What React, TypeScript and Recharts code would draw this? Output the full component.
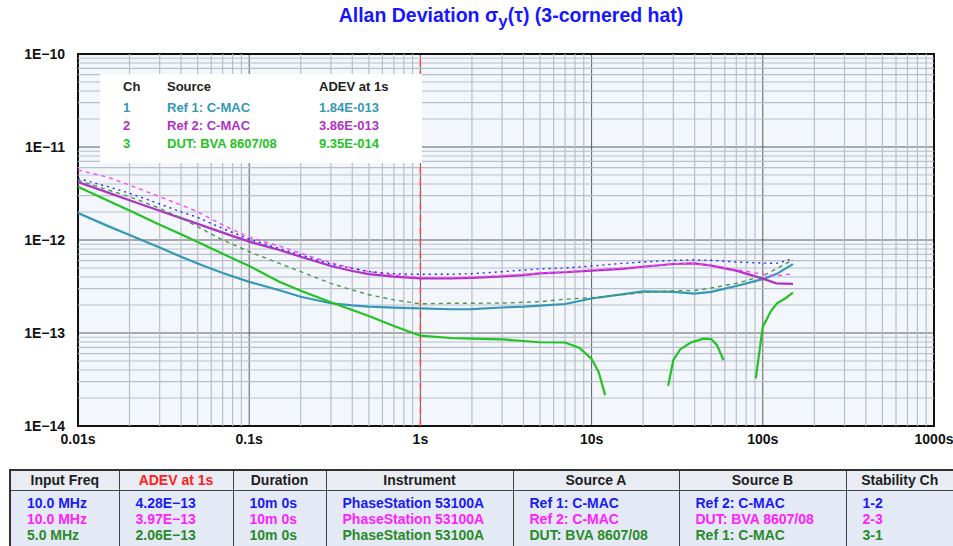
import { LineChart, Line, XAxis, YAxis, CartesianGrid, ReferenceLine, ReferenceArea } from 'recharts'

// tau grid shared by the pair measurements and the 3-cornered-hat results
const taus = [
  0.01, 0.015, 0.02, 0.03, 0.04, 0.05, 0.07, 0.1, 0.15, 0.2, 0.3, 0.4, 0.5, 0.7, 1, 1.5, 2, 3, 4, 5, 7, 10, 15, 20,
  30, 40, 50, 70, 100, 120, 150,
]

// solid: individual sources (3-cornered hat)
const ref1Adev = [
  1.95e-12, 1.41e-12, 1.13e-12, 8.3e-13, 6.6e-13, 5.6e-13, 4.42e-13, 3.55e-13, 2.88e-13, 2.45e-13, 2.09e-13, 1.98e-13,
  1.92e-13, 1.87e-13, 1.84e-13, 1.8e-13, 1.81e-13, 1.88e-13, 1.92e-13, 1.97e-13, 2.05e-13, 2.35e-13, 2.6e-13, 2.8e-13,
  2.77e-13, 2.65e-13, 2.77e-13, 3.2e-13, 3.8e-13, 4.3e-13, 5.5e-13,
]
const ref2Adev = [
  4.2e-12, 3.23e-12, 2.68e-12, 2.06e-12, 1.72e-12, 1.49e-12, 1.2e-12, 9.6e-13, 7.8e-13, 6.6e-13, 5.25e-13, 4.64e-13,
  4.3e-13, 4.03e-13, 3.86e-13, 3.86e-13, 3.92e-13, 4.05e-13, 4.2e-13, 4.38e-13, 4.5e-13, 4.68e-13, 4.9e-13, 5.16e-13,
  5.52e-13, 5.6e-13, 5.3e-13, 4.68e-13, 3.84e-13, 3.42e-13, 3.37e-13,
]

// dotted: pair measurements (ch 1-2, 2-3, 3-1)
const pair12Adev = [
  4.6e-12, 3.74e-12, 3.18e-12, 2.44e-12, 2.01e-12, 1.75e-12, 1.33e-12, 1.02e-12, 8.1e-13, 6.9e-13, 5.5e-13, 4.96e-13,
  4.57e-13, 4.33e-13, 4.28e-13, 4.28e-13, 4.34e-13, 4.56e-13, 4.75e-13, 4.9e-13, 5.0e-13, 5.25e-13, 5.6e-13, 5.8e-13,
  6.05e-13, 6.1e-13, 6.05e-13, 5.8e-13, 5.65e-13, 5.6e-13, 6.3e-13,
]
const pair23Adev = [
  5.66e-12, 4.72e-12, 3.9e-12, 2.92e-12, 2.38e-12, 2.01e-12, 1.45e-12, 1.07e-12, 8.6e-13, 7.2e-13, 5.7e-13, 5.0e-13,
  4.57e-13, 4.2e-13, 3.97e-13, 3.95e-13, 4.0e-13, 4.15e-13, 4.25e-13, 4.4e-13, 4.55e-13, 4.75e-13, 5.0e-13, 5.2e-13,
  5.55e-13, 5.6e-13, 5.35e-13, 4.8e-13, 4.3e-13, 4.1e-13, 4.35e-13,
]
const pair31Adev = [
  4.4e-12, 3.45e-12, 2.92e-12, 2.19e-12, 1.72e-12, 1.39e-12, 1.0e-12, 7.5e-13, 5.6e-13, 4.56e-13, 3.42e-13, 2.9e-13,
  2.58e-13, 2.27e-13, 2.06e-13, 2.09e-13, 2.09e-13, 2.1e-13, 2.14e-13, 2.17e-13, 2.31e-13, 2.4e-13, 2.58e-13, 2.72e-13,
  2.84e-13, 2.86e-13, 3.05e-13, 3.42e-13, 4.1e-13, 4.9e-13, 6.1e-13,
]

// DUT has gaps where the hat variance goes negative
const dutTaus = [
  0.01, 0.015, 0.02, 0.03, 0.04, 0.05, 0.07, 0.1, 0.15, 0.2, 0.3, 0.4, 0.5, 0.7, 1, 1.5, 2, 3, 4, 5, 7, 8.5, 10, 11, 12,
  20, 28, 30, 33, 38, 45, 50, 54, 59, 75, 91, 100, 105, 111, 121, 135, 150,
]
const dutAdev = [
  3.74e-12, 2.65e-12, 2.07e-12, 1.46e-12, 1.15e-12, 9.5e-13, 7.1e-13, 5.25e-13, 3.56e-13, 2.85e-13, 2.14e-13, 1.77e-13,
  1.52e-13, 1.19e-13, 9.35e-14, 8.83e-14, 8.7e-14, 8.55e-14, 8.2e-14, 7.95e-14, 7.9e-14, 6.9e-14, 5.25e-14, 3.8e-14,
  2.15e-14, null, 2.7e-14, 5.1e-14, 6.7e-14, 7.9e-14, 8.7e-14, 8.6e-14, 7.4e-14, 5.1e-14, null, 3.26e-14, 1.17e-13,
  1.38e-13, 1.7e-13, 2.08e-13, 2.35e-13, 2.72e-13,
]

const xTicks = [0.01, 0.1, 1, 10, 100, 1000]
const xTickLabels = ['0.01s', '0.1s', '1s', '10s', '100s', '1000s']
const yTicks = [1e-14, 1e-13, 1e-12, 1e-11, 1e-10]
const yTickLabels = ['1E\u221214', '1E\u221213', '1E\u221212', '1E\u221211', '1E\u221210']

const legendRows = [
  { ch: '1', source: 'Ref 1: C-MAC', adev: '1.84E-013', color: '#3598b4' },
  { ch: '2', source: 'Ref 2: C-MAC', adev: '3.86E-013', color: '#b032c2' },
  { ch: '3', source: 'DUT: BVA 8607/08', adev: '9.35E-014', color: '#22c322' },
]

const tableHeaders = ['Input Freq', 'ADEV at 1s', 'Duration', 'Instrument', 'Source A', 'Source B', 'Stability Ch']
const tableColWidths = [109, 114, 93, 187, 166, 167, 108]
const rowColors = ['#1a1af5', '#ff22ff', '#2a8a2a']
const inputFreq = ['10.0 MHz', '10.0 MHz', '5.0 MHz']
const adevAt1s = ['4.28E\u221213', '3.97E\u221213', '2.06E\u221213']
const durations = ['10m 0s', '10m 0s', '10m 0s']
const instruments = ['PhaseStation 53100A', 'PhaseStation 53100A', 'PhaseStation 53100A']
const sourceA = ['Ref 1: C-MAC', 'Ref 2: C-MAC', 'DUT: BVA 8607/08']
const sourceB = ['Ref 2: C-MAC', 'DUT: BVA 8607/08', 'Ref 1: C-MAC']
const stabilityCh = ['1-2', '2-3', '3-1']

const minorSteps = [2, 3, 4, 5, 6, 7, 8, 9]
const xMinor = xTicks.slice(0, -1).flatMap((d) => minorSteps.map((m) => d * m))
const yMinor = yTicks.slice(0, -1).flatMap((d) => minorSteps.map((m) => d * m))

const pairData = taus.map((t, i) => ({
  t,
  ref1: ref1Adev[i],
  ref2: ref2Adev[i],
  p12: pair12Adev[i],
  p23: pair23Adev[i],
  p31: pair31Adev[i],
}))
const dutData = dutTaus.map((t, i) => ({ t, dut: dutAdev[i] }))

const FONT = "'Liberation Sans', Arial, Helvetica, sans-serif"
const tickStyle = { fontSize: 14, fontWeight: 700, fill: '#111', fontFamily: FONT }

function fmtX(v: number) {
  const i = xTicks.findIndex((t) => Math.abs(Math.log10(t) - Math.log10(v)) < 1e-6)
  return i >= 0 ? xTickLabels[i] : ''
}

function fmtY(v: number) {
  const i = yTicks.findIndex((t) => Math.abs(Math.log10(t) - Math.log10(v)) < 1e-6)
  return i >= 0 ? yTickLabels[i] : ''
}

function Title() {
  return (
    <div
      style={{
        position: 'absolute',
        left: 0,
        top: 4,
        width: 1022,
        textAlign: 'center',
        color: '#1717ff',
        fontSize: 19.5,
        fontWeight: 700,
        lineHeight: '22px',
      }}
    >
      Allan Deviation σ<sub style={{ fontSize: 17, verticalAlign: -5, lineHeight: 0 }}>y</sub>(τ) (3-cornered hat)
    </div>
  )
}

function LegendBox() {
  const cols = [23, 67, 219]
  const rowY = [4, 25, 43, 61]
  const cell = (text: string, x: number, y: number, color: string) => (
    <span key={`${x}-${y}`} style={{ position: 'absolute', left: x, top: y, color, whiteSpace: 'nowrap' }}>
      {text}
    </span>
  )
  return (
    <div
      style={{
        position: 'absolute',
        left: 100,
        top: 74,
        width: 322,
        height: 89,
        background: '#fff',
        fontSize: 13,
        fontWeight: 700,
        lineHeight: '18px',
      }}
    >
      {cell('Ch', cols[0], rowY[0], '#222')}
      {cell('Source', cols[1], rowY[0], '#222')}
      {cell('ADEV at 1s', cols[2], rowY[0], '#222')}
      {legendRows.map((r, i) => [
        cell(r.ch, cols[0], rowY[i + 1], r.color),
        cell(r.source, cols[1], rowY[i + 1], r.color),
        cell(r.adev, cols[2], rowY[i + 1], r.color),
      ])}
    </div>
  )
}

function InfoTable() {
  const columns = [inputFreq, adevAt1s, durations, instruments, sourceA, sourceB, stabilityCh]
  const border = '1px solid #444'
  return (
    <table
      style={{
        position: 'absolute',
        left: 9,
        top: 469,
        width: 944,
        borderCollapse: 'collapse',
        tableLayout: 'fixed',
        border: '2px solid #333',
        fontSize: 14,
        fontWeight: 700,
      }}
    >
      <colgroup>
        {tableColWidths.map((w, i) => (
          <col key={i} style={{ width: w }} />
        ))}
      </colgroup>
      <tbody>
        <tr style={{ background: '#e9ecf2', height: 20 }}>
          {tableHeaders.map((h, i) => (
            <td
              key={h}
              style={{
                border,
                textAlign: 'center',
                padding: 0,
                lineHeight: '19px',
                color: i === 1 ? '#ff2020' : '#1e1e1e',
              }}
            >
              {h}
            </td>
          ))}
        </tr>
        <tr style={{ background: '#e4eaf5' }}>
          {columns.map((col, ci) => (
            <td
              key={ci}
              style={{ border, padding: '4px 0 6px 16px', verticalAlign: 'top', lineHeight: '16px', whiteSpace: 'nowrap' }}
            >
              {col.map((v, ri) => (
                <div key={ri} style={{ color: rowColors[ri] }}>
                  {v}
                </div>
              ))}
            </td>
          ))}
        </tr>
      </tbody>
    </table>
  )
}

export default function App() {
  return (
    <div
      style={{
        position: 'absolute',
        left: 0,
        top: 0,
        width: 953,
        height: 546,
        overflow: 'hidden',
        background: '#fff',
        fontFamily: FONT,
      }}
    >
      <Title />
      <LineChart width={953} height={460} margin={{ top: 54, right: 19, left: 8, bottom: 4 }}>
        <CartesianGrid stroke="#5c5c5c" strokeWidth={1} fill="#f3f6fb" />
        {xMinor.map((v) => (
          <ReferenceLine key={`x${v}`} x={v} stroke="#b7bfca" strokeWidth={1.2} />
        ))}
        {yMinor.map((v) => (
          <ReferenceLine key={`y${v}`} y={v} stroke="#b7bfca" strokeWidth={1.2} />
        ))}
        <XAxis
          dataKey="t"
          type="number"
          scale="log"
          domain={[0.01, 1000]}
          ticks={xTicks}
          interval={0}
          allowDataOverflow
          axisLine={false}
          tickLine={false}
          tickFormatter={fmtX}
          tick={tickStyle}
          height={30}
        />
        <YAxis
          type="number"
          scale="log"
          domain={[1e-14, 1e-10]}
          ticks={yTicks}
          interval={0}
          allowDataOverflow
          axisLine={false}
          tickLine={false}
          tickMargin={7}
          tickFormatter={fmtY}
          tick={tickStyle}
          width={70}
        />
        <ReferenceLine x={1} stroke="#ff4a4a" strokeWidth={1.5} strokeDasharray="7 5" />
        <Line data={pairData} dataKey="ref1" stroke="#3598b4" strokeWidth={2.2} dot={false} isAnimationActive={false} />
        <Line data={pairData} dataKey="ref2" stroke="#b032c2" strokeWidth={2.2} dot={false} isAnimationActive={false} />
        <Line data={dutData} dataKey="dut" stroke="#22c322" strokeWidth={2.2} dot={false} isAnimationActive={false} />
        <Line
          data={pairData}
          dataKey="p31"
          stroke="#4f944f"
          strokeWidth={1.4}
          strokeDasharray="4 4"
          dot={false}
          isAnimationActive={false}
        />
        <Line
          data={pairData}
          dataKey="p23"
          stroke="#ff44ff"
          strokeWidth={1.4}
          strokeDasharray="4 4"
          dot={false}
          isAnimationActive={false}
        />
        <Line
          data={pairData}
          dataKey="p12"
          stroke="#2424ff"
          strokeWidth={1.4}
          strokeDasharray="2 4"
          dot={false}
          isAnimationActive={false}
        />
        <ReferenceArea x1={0.01} x2={1000} y1={1e-14} y2={1e-10} fill="none" stroke="#111" strokeWidth={2} />
      </LineChart>
      <LegendBox />
      <InfoTable />
    </div>
  )
}
